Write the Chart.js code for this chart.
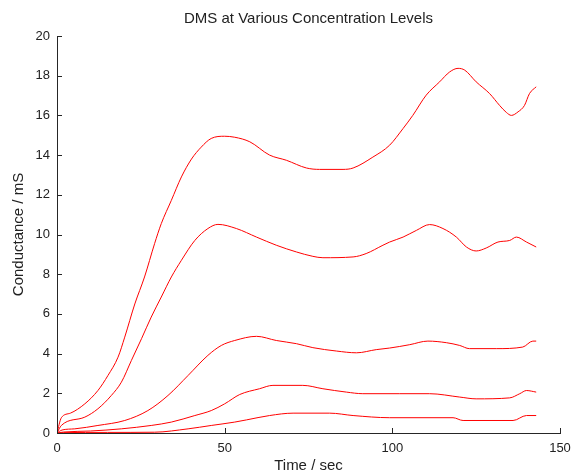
<!DOCTYPE html>
<html>
<head>
<meta charset="utf-8">
<script src="https://cdn.jsdelivr.net/npm/chart.js@4"></script>
<style>
  html, body { margin: 0; padding: 0; background: #fff; }
  #wrap { width: 574px; height: 473px; }
</style>
</head>
<body>
<div id="wrap"><canvas id="myChart" width="574" height="473"></canvas></div>
<script>
// tick labels
const xTicks = [0, 50, 100, 150];
const yTicks = [0, 2, 4, 6, 8, 10, 12, 14, 16, 18, 20];

// five concentration levels, time (sec) and conductance (mS)
const aTime = [0, 1.3, 4, 8.3, 12.2, 15.2, 18.2, 20.2, 23.2, 26.1, 29.1, 31.1, 34.1, 37.1, 40.1, 43, 46, 50, 53, 57.5, 63.4, 68.4, 74.4, 78.3, 85.3, 88.3, 94.2, 99.2, 103.2, 106.1, 110.1, 114.1, 117.1, 119.6, 121.6, 125, 129, 132, 134, 135.5, 137.5, 139.4, 140.9, 142.9];
const aVal  = [0, 0.77, 1.0, 1.47, 2.14, 2.9, 3.82, 4.83, 6.5, 7.86, 9.54, 10.55, 11.72, 12.9, 13.8, 14.4, 14.84, 14.95, 14.9, 14.67, 14.0, 13.74, 13.35, 13.28, 13.28, 13.35, 13.9, 14.5, 15.34, 16.0, 17.02, 17.69, 18.19, 18.37, 18.28, 17.69, 17.1, 16.5, 16.15, 16.0, 16.18, 16.5, 17.1, 17.44];

const bTime = [0, 1.3, 8.3, 12.2, 16.2, 19.2, 22.2, 25.2, 28.1, 31.1, 34.1, 37.1, 41.1, 45, 48, 53.5, 59.5, 65.4, 71.4, 76.3, 79.3, 88.3, 92.2, 97.2, 99.2, 103.2, 107.2, 111.1, 115.1, 119.1, 122.1, 125, 128, 131.5, 135, 137, 140, 142.9];
const bVal  = [0, 0.38, 0.8, 1.22, 1.89, 2.56, 3.66, 4.75, 5.84, 6.85, 7.86, 8.7, 9.7, 10.3, 10.51, 10.3, 9.87, 9.46, 9.12, 8.9, 8.83, 8.87, 9.04, 9.46, 9.62, 9.87, 10.21, 10.5, 10.3, 9.87, 9.37, 9.17, 9.32, 9.62, 9.7, 9.87, 9.62, 9.37];

const cTime = [0, 1.5, 5.3, 12.2, 20.2, 27.1, 33.1, 39.1, 45, 49, 53, 59.5, 65.4, 71.4, 76.3, 83.3, 89.3, 95.2, 99.2, 105.2, 110.6, 116.1, 120.1, 123, 131, 138.9, 141.9, 142.9];
const cVal  = [0, 0.15, 0.21, 0.38, 0.63, 1.13, 1.89, 2.9, 3.91, 4.41, 4.66, 4.87, 4.66, 4.5, 4.3, 4.13, 4.04, 4.2, 4.28, 4.45, 4.63, 4.55, 4.41, 4.25, 4.25, 4.33, 4.63, 4.63];

const dTime = [0, 2, 10, 19.2, 28.1, 34.1, 41.1, 46, 50, 54.5, 60.4, 64.4, 73.3, 79.3, 86.3, 91.2, 102.2, 111.1, 120.1, 125, 135, 138, 140, 142.9];
const dVal  = [0, 0.05, 0.1, 0.21, 0.38, 0.55, 0.88, 1.13, 1.47, 1.94, 2.23, 2.4, 2.4, 2.23, 2.06, 1.98, 1.98, 1.98, 1.81, 1.72, 1.77, 1.98, 2.14, 2.06];

const eTime = [0, 2, 15, 29.1, 39.1, 46, 53, 56.5, 63.4, 70.4, 81.3, 88.3, 99.2, 118.1, 121.1, 136, 140, 142.9];
const eVal  = [0, 0.02, 0.03, 0.04, 0.21, 0.38, 0.55, 0.66, 0.88, 1.0, 1.0, 0.88, 0.77, 0.77, 0.63, 0.63, 0.88, 0.88];

const series = [[aTime, aVal], [bTime, bVal], [cTime, cVal], [dTime, dVal], [eTime, eVal]];

const FONT = '"Liberation Sans", Arial, Helvetica, sans-serif';
const AXIS = '#262626';

// matlab style ticks pointing into the plot
const inwardTicks = {
  id: 'inwardTicks',
  afterDraw(chart) {
    const ctx = chart.ctx;
    const area = chart.chartArea;
    const xs = chart.scales.x, ys = chart.scales.y;
    ctx.save();
    ctx.strokeStyle = AXIS;
    ctx.lineWidth = 1;
    ctx.beginPath();
    xTicks.forEach(v => {
      const px = Math.round(xs.getPixelForValue(v)) + 0.5;
      ctx.moveTo(px, area.bottom);
      ctx.lineTo(px, area.bottom - 5);
    });
    yTicks.forEach(v => {
      const py = Math.round(ys.getPixelForValue(v)) + 0.5;
      ctx.moveTo(area.left, py);
      ctx.lineTo(area.left + 5, py);
    });
    ctx.stroke();
    ctx.restore();
  }
};

const ctx = document.getElementById('myChart').getContext('2d');
const myChart = new Chart(ctx, {
  type: 'line',
  data: {
    datasets: series.map(s => ({
      data: s[0].map((t, i) => ({ x: t, y: s[1][i] })),
      borderColor: '#ff0000',
      backgroundColor: '#ff0000',
      borderWidth: 1,
      pointRadius: 0,
      fill: false,
      cubicInterpolationMode: 'monotone'
    }))
  },
  options: {
    responsive: false,
    animation: false,
    layout: { padding: { left: 0, right: 14, top: 0, bottom: 0 } },
    scales: {
      x: {
        type: 'linear',
        min: 0,
        max: 150,
        afterBuildTicks: s => { s.ticks = xTicks.map(v => ({ value: v })); },
        afterFit: s => { s.height = 40; s.paddingLeft = 0; s.paddingRight = 0; },
        grid: { display: false, drawTicks: false },
        border: { display: true, color: AXIS, width: 1 },
        ticks: { font: { family: FONT, size: 13 }, color: '#222', padding: 8, maxRotation: 0 },
        title: {
          display: true,
          text: 'Time / sec',
          font: { family: FONT, size: 15 },
          color: '#222',
          padding: { top: 0, bottom: -2 }
        }
      },
      y: {
        min: 0,
        max: 20,
        afterBuildTicks: s => { s.ticks = yTicks.map(v => ({ value: v })); },
        afterFit: s => { s.width = 57; },
        grid: { display: false, drawTicks: false },
        border: { display: true, color: AXIS, width: 1 },
        ticks: { font: { family: FONT, size: 13 }, color: '#222', padding: 7 },
        title: {
          display: true,
          text: 'Conductance / mS',
          font: { family: FONT, size: 15 },
          color: '#222',
          padding: { top: 10, bottom: 0 }
        }
      }
    },
    plugins: {
      legend: { display: false },
      tooltip: { enabled: false },
      title: {
        display: true,
        fullSize: false,
        text: 'DMS at Various Concentration Levels',
        font: { family: FONT, size: 15, weight: 'normal' },
        color: '#222',
        padding: { top: 10, bottom: 8 }
      }
    }
  },
  plugins: [inwardTicks]
});
</script>
</body>
</html>
